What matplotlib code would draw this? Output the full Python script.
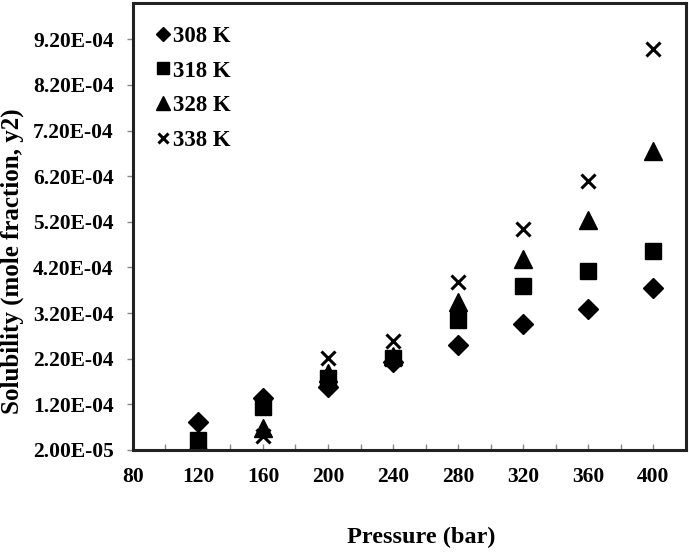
import matplotlib
matplotlib.use("Agg")
import matplotlib.pyplot as plt
from matplotlib.ticker import MultipleLocator

plt.rcParams['font.family'] = ['Liberation Serif', 'DejaVu Serif']
plt.rcParams['font.weight'] = 'bold'

pressure = [120, 160, 200, 240, 280, 320, 360, 400]
y308 = [8.2e-5, 1.34e-4, 1.57e-4, 2.12e-4, 2.50e-4, 2.96e-4, 3.29e-4, 3.75e-4]
y318 = [4.2e-5, 1.13e-4, 1.78e-4, 2.22e-4, 3.05e-4, 3.79e-4, 4.11e-4, 4.56e-4]
y328 = [4.0e-5, 6.9e-5, 1.89e-4, 2.26e-4, 3.45e-4, 4.39e-4, 5.24e-4, 6.75e-4]
y338 = [4.0e-5, 5.1e-5, 2.22e-4, 2.59e-4, 3.88e-4, 5.04e-4, 6.09e-4, 8.99e-4]
labels = ['308 K', '318 K', '328 K', '338 K']
ytick_vals = [2.0e-5, 1.2e-4, 2.2e-4, 3.2e-4, 4.2e-4, 5.2e-4, 6.2e-4, 7.2e-4, 8.2e-4, 9.2e-4]
ytick_labels = ['2.00E-05', '1.20E-04', '2.20E-04', '3.20E-04', '4.20E-04',
                '5.20E-04', '6.20E-04', '7.20E-04', '8.20E-04', '9.20E-04']
xtick_vals = [80, 120, 160, 200, 240, 280, 320, 360, 400]

fig = plt.figure(figsize=(6.89, 5.52), dpi=100)
ax = fig.add_axes([0.193, 0.185, 0.802, 0.81])

ax.plot(pressure, y308, linestyle='none', marker='D', ms=10, color='black', label=labels[0])
ax.plot(pressure, y318, linestyle='none', marker='s', ms=12, color='black', label=labels[1])
ax.plot(pressure, y328, linestyle='none', marker='^', ms=12.5, color='black', label=labels[2])
ax.plot(pressure, y338, linestyle='none', marker='x', ms=10, mew=2.2, color='black', label=labels[3])

ax.set_xlim(80, 420)
ax.set_ylim(2.0e-5, 1.0e-3)
ax.set_xticks(xtick_vals)
ax.set_xticklabels([str(v) for v in xtick_vals], fontsize=15.5, fontweight='bold')
ax.xaxis.set_minor_locator(MultipleLocator(20))
ax.set_yticks(ytick_vals)
ax.set_yticklabels(ytick_labels, fontsize=15.5, fontweight='bold')

ax.tick_params(axis='x', which='both', direction='in', length=4, width=1, color='#888888', pad=12)
ax.tick_params(axis='y', which='major', direction='out', length=4, width=1, color='#888888', pad=10)

for s in ax.spines.values():
    s.set_linewidth(2.2)
    s.set_color('#222222')

ax.set_xlabel('Pressure (bar)', fontsize=17.5, fontweight='bold')
ax.xaxis.set_label_coords(0.521, -0.172)
ax.set_ylabel('Solubility (mole fraction, y2)', fontsize=18, fontweight='bold')
ax.yaxis.set_label_coords(-0.198, 0.423)

leg = ax.legend(loc='upper left', bbox_to_anchor=(0.0, 1.0), frameon=False,
                prop={'family': 'Liberation Serif', 'weight': 'bold', 'size': 16.5},
                markerscale=0.75, handlelength=0.6, handletextpad=0.15,
                labelspacing=0.6, borderaxespad=0.6)

fig.savefig('out.png', dpi=100)
